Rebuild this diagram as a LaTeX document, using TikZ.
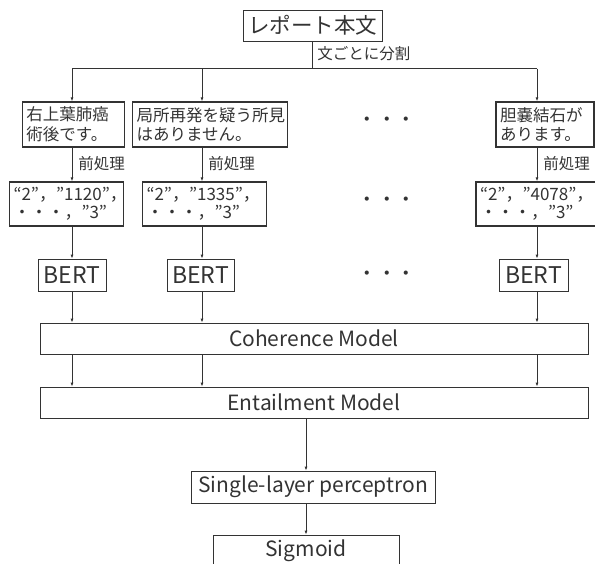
\documentclass[tikz,border=0pt]{standalone}
\usepackage{fontspec}
\setmainfont{Noto Sans CJK JP}
\usepackage{xcolor}
\usetikzlibrary{arrows.meta}
\definecolor{ink}{gray}{0.2}

\begin{document}
\begin{tikzpicture}[x=1pt, y=1pt, color=ink, line width=0.8pt,
  >={Latex[length=4pt,width=3pt]},
  box/.style={draw, inner sep=0pt, font=\fontsize{21}{24}\selectfont},
  sbox/.style={draw, line width=1.3pt, inner sep=4pt, align=left, font=\fontsize{16.5}{19.5}\selectfont},
  tbox/.style={draw, line width=1.3pt, inner sep=4pt, align=left, font=\fontsize{17}{18.5}\selectfont},
  note/.style={anchor=west, inner sep=0pt, font=\fontsize{15.5}{18}\selectfont},
  dots/.style={inner sep=0pt, font=\fontsize{19.5}{20}\selectfont}]
\useasboundingbox (0,0) rectangle (595,-563);

% column lines
\coordinate (c0) at (306,0);
\coordinate (c1) at (72,0);
\coordinate (c2) at (202,0);
\coordinate (c3) at (537,0);

\node[box, minimum width=139pt, minimum height=31pt, font=\fontsize{21.5}{24}\selectfont](REP) at (312.5,-25.5){レポート本文};
\coordinate (SPL) at (312.5,-68.5);
\draw (REP.south) -- (SPL);
\node[note] (SPLT) at (317,-54){文ごとに分割};
\draw (SPL -| c1) -- (SPL -| c3);

% sentences
\node[sbox, text width=94pt, minimum height=45pt](S1) at (73.5,-124.5){右上葉肺癌\\術後です。};
\node[sbox, text width=147pt, minimum height=45pt](S2) at (210,-124.5){局所再発を疑う所見\\はありません。};
\node[sbox, text width=90pt, minimum height=45pt](S3) at (545,-124.5){胆嚢結石が\\あります。};

\draw[->] (SPL -| c1) -- (S1.north -| c1);
\draw[->] (SPL -| c2) -- (S2.north -| c2);
\draw[->] (SPL -| c3) -- (S3.north -| c3);

% token ids
\node[tbox, text width=106pt, minimum height=44pt](T1) at (66.5,-204){“2”，”1120”，\\・・・，”3”};
\node[tbox, text width=116pt, minimum height=44pt](T2) at (204.5,-204){“2”，”1335”，\\・・・，”3”};
\node[tbox, text width=122pt, minimum height=44pt](T3) at (541,-204){“2”，”4078”，\\・・・，”3”};

\draw[->] (S1.south -| c1) -- (T1.north -| c1);
\draw[->] (S2.south -| c2) -- (T2.north -| c2);
\draw[->] (S3.south -| c3) -- (T3.north -| c3);

\node[note] (P1) at (78,-164){前処理};
\node[note] (P2) at (208,-164){前処理};
\node[note] (P3) at (543,-164){前処理};

% BERT encoders
\node[box, minimum width=68pt, minimum height=32pt, font=\fontsize{23}{24}\selectfont](B1) at (72,-275){BERT};
\node[box, minimum width=67pt, minimum height=32pt, font=\fontsize{23}{24}\selectfont](B2) at (200.5,-275){BERT};
\node[box, minimum width=69pt, minimum height=32pt, font=\fontsize{23}{24}\selectfont](B3) at (533.5,-275){BERT};

\draw[->] (T1.south -| c1) -- (B1.north -| c1);
\draw[->] (T2.south -| c2) -- (B2.north -| c2);
\draw[->] (T3.south -| c3) -- (B3.north -| c3);

\node[dots] (D1) at (387,-122){・・・};
\node[dots] (D2) at (387,-202){・・・};
\node[dots] (D3) at (387,-276){・・・};

% models
\node[box, minimum width=548pt, minimum height=31pt](COH) at (314,-338.5){Coherence Model};
\node[box, minimum width=548pt, minimum height=31pt, below of=COH, node distance=64pt](ENT){Entailment Model};

\draw[->] (B1.south -| c1) -- (COH.north -| c1);
\draw[->] (B2.south -| c2) -- (COH.north -| c2);
\draw[->] (B3.south -| c3) -- (COH.north -| c3);

\draw[->] (COH.south -| c1) -- (ENT.north -| c1);
\draw[->] (COH.south -| c2) -- (ENT.north -| c2);
\draw[->] (COH.south -| c3) -- (ENT.north -| c3);

\node[box, minimum width=244pt, minimum height=32pt](SLP) at (313,-487){Single-layer perceptron};
\node[box, minimum width=186pt, minimum height=32pt](SIG) at (306,-551){Sigmoid};

\draw[->] (ENT.south -| c0) -- (SLP.north -| c0);
\draw[->] (SLP.south -| c0) -- (SIG.north -| c0);
\end{tikzpicture}
\end{document}
